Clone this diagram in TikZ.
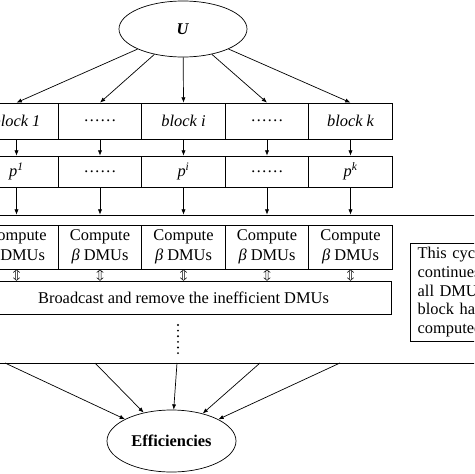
\documentclass[tikz,border=0pt]{standalone}
\usepackage{fontspec}
\setmainfont{Liberation Serif}
\usetikzlibrary{arrows.meta,shapes.geometric}
\tikzstyle{Cell}=[rectangle, draw=black, minimum width=2.505cm, text centered, inner sep=0pt]
\tikzstyle{Oval}=[ellipse, draw=black, inner sep=0pt]
\tikzstyle{Flow}=[-{Latex[length=4.5pt,width=3.6pt]}]
\tikzstyle{Both}=[line width=0.45pt, line join=miter]

\begin{document}
\begin{tikzpicture}[x=0.03cm, y=-0.03cm, line width=0.6pt, font=\fontsize{14}{16}\selectfont]
    \useasboundingbox (0,0) rectangle (474,474);
    \clip (0,0) rectangle (474,474);
    \path
    (183,29) node[Oval, minimum width=3.84cm, minimum height=1.68cm] (U) {\textbf{\textit{U}}}
    (240,289) node[rectangle, draw=black, minimum width=15.6cm, minimum height=4.44cm] (loop) {}
    (16.5,121) node[Cell, minimum height=1.08cm] (blk1) {\itshape block 1}
    (100,121) node[Cell, minimum height=1.08cm] (blk2) {……}
    (183.5,121) node[Cell, minimum height=1.08cm] (blk3) {\itshape block i}
    (267,121) node[Cell, minimum height=1.08cm] (blk4) {……}
    (350.5,121) node[Cell, minimum height=1.08cm] (blk5) {\itshape block k}
    (16.5,171.5) node[Cell, minimum height=0.93cm] (p1) {\itshape p\textsuperscript{1}}
    (100,171.5) node[Cell, minimum height=0.93cm] (p2) {……}
    (183.5,171.5) node[Cell, minimum height=0.93cm] (p3) {\itshape p\textsuperscript{i}}
    (267,171.5) node[Cell, minimum height=0.93cm] (p4) {……}
    (350.5,171.5) node[Cell, minimum height=0.93cm] (p5) {\itshape p\textsuperscript{k}};

    \path (16.5,247) node[Cell, minimum height=1.32cm, align=center, font=\fontsize{14}{17}\selectfont] (cmp1) {Compute\\{\itshape β} DMUs}
    (100,247) node[Cell, minimum height=1.32cm, align=center, font=\fontsize{14}{17}\selectfont] (cmp2) {Compute\\{\itshape β} DMUs}
    (183.5,247) node[Cell, minimum height=1.32cm, align=center, font=\fontsize{14}{17}\selectfont] (cmp3) {Compute\\{\itshape β} DMUs}
    (267,247) node[Cell, minimum height=1.32cm, align=center, font=\fontsize{14}{17}\selectfont] (cmp4) {Compute\\{\itshape β} DMUs}
    (350.5,247) node[Cell, minimum height=1.32cm, align=center, font=\fontsize{14}{17}\selectfont] (cmp5) {Compute\\{\itshape β} DMUs}
    (183.5,297.5) node[Cell, minimum width=12.45cm, minimum height=0.99cm] (bcast) {Broadcast and remove the inefficient DMUs}
    (410,243) node[rectangle, draw=black, anchor=north west, minimum height=2.85cm, inner xsep=0.22cm, text width=2.86cm, align=left] (note) {This cycle\\continues\\all DMUs\\block have\\computed}
    (171.5,441) node[Oval, minimum width=3.87cm, minimum height=1.86cm] (eff) {\textbf{Efficiencies}};

    \coordinate (e1) at (5,363);
    \coordinate (e2) at (95,363);
    \coordinate (e3) at (177,363);
    \coordinate (e4) at (260,363);
    \coordinate (e5) at (340,363);

    \foreach \i in {1,...,5} {
        \draw[Flow] (U) -- (blk\i.north);
        \draw[Flow] (blk\i.south) -- (p\i.north);
        \draw[Flow] (p\i.south) -- (p\i.south |- loop.north);
        \draw[Flow] (e\i) -- (eff);
        % hollow up-down arrow between compute cell and broadcast box
        \draw[Both] (cmp\i.south) +(-2.8pt,-2.7pt) -- +(0pt,-0.4pt) -- +(2.8pt,-2.7pt)
            +(-1pt,-1.3pt) -- +(-1pt,-8.5pt) +(1pt,-1.3pt) -- +(1pt,-8.5pt)
            +(-2.8pt,-7.1pt) -- +(0pt,-9.4pt) -- +(2.8pt,-7.1pt);
    }
    % vertical dots for the repeated rounds
    \draw[line width=1.8pt, line cap=round, dash pattern=on 0pt off 4.8pt] (178,325) -- (178,354);
\end{tikzpicture}
\end{document}
